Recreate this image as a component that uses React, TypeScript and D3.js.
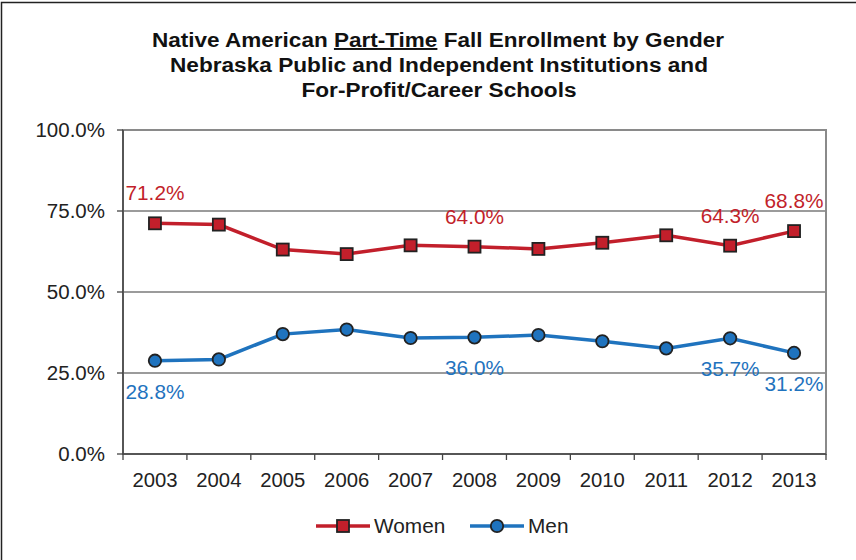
import * as React from "react";
import * as d3 from "d3";

const years = ["2003", "2004", "2005", "2006", "2007", "2008", "2009", "2010", "2011", "2012", "2013"];
const women = [71.2, 70.8, 63.1, 61.7, 64.4, 64.0, 63.3, 65.2, 67.5, 64.3, 68.8];
const men = [28.8, 29.2, 37.0, 38.4, 35.8, 36.0, 36.7, 34.8, 32.6, 35.7, 31.2];
const yTicks = [0, 25, 50, 75, 100];
const labelledYears = ["2003", "2008", "2012", "2013"];

const width = 856;
const height = 560;
const margin = { left: 123, right: 30, top: 130, bottom: 106 };

const red = "#C21F2B";
const blue = "#1F73BE";
const font = "'Liberation Sans', Arial, sans-serif";

export default function App() {
  const x = React.useMemo(
    () => d3.scaleBand().domain(years).range([margin.left, width - margin.right]),
    []
  );
  const y = React.useMemo(
    () => d3.scaleLinear().domain([0, 100]).range([height - margin.bottom, margin.top]),
    []
  );
  const cx = (d: string) => (x(d) ?? 0) + x.bandwidth() / 2;
  const line = d3
    .line<number>()
    .x((_, i) => cx(years[i]))
    .y((d) => y(d));
  const fmt = (v: number) => v.toFixed(1) + "%";
  const bottom = y(0);

  return (
    <svg
      width={width}
      height={height}
      style={{ position: "absolute", left: 0, top: 0, background: "#fff" }}
      fontFamily={font}
    >
      <rect x={1.5} y={2.5} width={width + 10} height={height + 10} fill="none" stroke="#222" strokeWidth={1.5} />

      <g fontWeight="bold" fontSize={19.5} textAnchor="middle" fill="#111">
        <text x={438} y={47} textLength={572} lengthAdjust="spacingAndGlyphs">
          Native American <tspan textDecoration="underline">Part-Time</tspan> Fall Enrollment by Gender
        </text>
        <text x={439} y={72} textLength={538} lengthAdjust="spacingAndGlyphs">
          Nebraska Public and Independent Institutions and
        </text>
        <text x={439} y={97} textLength={275} lengthAdjust="spacingAndGlyphs">
          For-Profit/Career Schools
        </text>
      </g>

      {yTicks.slice(1, 4).map((t) => (
        <line key={t} x1={margin.left} x2={width - margin.right} y1={y(t)} y2={y(t)} stroke="#7a7a7a" strokeWidth={1.3} />
      ))}
      <rect
        x={margin.left}
        y={margin.top}
        width={width - margin.left - margin.right}
        height={bottom - margin.top}
        fill="none"
        stroke="#8a8a8a"
        strokeWidth={2}
      />
      <line x1={margin.left} x2={margin.left} y1={margin.top} y2={bottom} stroke="#444" strokeWidth={1.5} />
      <line x1={margin.left} x2={width - margin.right} y1={bottom} y2={bottom} stroke="#444" strokeWidth={1.5} />

      {yTicks.map((t) => (
        <g key={t}>
          <line x1={margin.left - 6} x2={margin.left} y1={y(t)} y2={y(t)} stroke="#444" strokeWidth={1.3} />
          <text x={105} y={y(t) + 7} textAnchor="end" fontSize={20.5} fill="#222">
            {t.toFixed(1) + "%"}
          </text>
        </g>
      ))}

      {years.map((yr) => (
        <line
          key={yr}
          x1={x(yr) ?? 0}
          x2={x(yr) ?? 0}
          y1={bottom}
          y2={bottom + 6}
          stroke="#444"
          strokeWidth={1.3}
        />
      ))}
      <line x1={width - margin.right} x2={width - margin.right} y1={bottom} y2={bottom + 6} stroke="#444" strokeWidth={1.3} />
      {years.map((yr) => (
        <text key={yr} x={cx(yr)} y={487} textAnchor="middle" fontSize={20.3} fill="#222">
          {yr}
        </text>
      ))}

      <path d={line(women) ?? ""} fill="none" stroke={red} strokeWidth={3.5} />
      <path d={line(men) ?? ""} fill="none" stroke={blue} strokeWidth={3.5} />

      {women.map((v, i) => (
        <rect
          key={i}
          x={cx(years[i]) - 6}
          y={y(v) - 6}
          width={12}
          height={12}
          fill={red}
          stroke="#222"
          strokeWidth={1.8}
        />
      ))}
      {men.map((v, i) => (
        <circle key={i} cx={cx(years[i])} cy={y(v)} r={6.2} fill={blue} stroke="#222" strokeWidth={1.8} />
      ))}

      {years.map((yr, i) =>
        labelledYears.includes(yr) ? (
          <g key={yr} fontSize={20.8} textAnchor="middle">
            <text x={cx(yr)} y={y(women[i]) - 23} fill={red}>
              {fmt(women[i])}
            </text>
            <text x={cx(yr)} y={y(men[i]) + 38} fill={blue}>
              {fmt(men[i])}
            </text>
          </g>
        ) : null
      )}

      <g>
        <line x1={316} x2={370} y1={526} y2={526} stroke={red} strokeWidth={3.5} />
        <rect x={337} y={520} width={12} height={12} fill={red} stroke="#222" strokeWidth={1.8} />
        <text x={374} y={533} fontSize={20.8} fill="#222">Women</text>
        <line x1={470} x2={524} y1={526} y2={526} stroke={blue} strokeWidth={3.5} />
        <circle cx={497} cy={526} r={6.2} fill={blue} stroke="#222" strokeWidth={1.8} />
        <text x={528} y={533} fontSize={20.8} fill="#222">Men</text>
      </g>
    </svg>
  );
}
